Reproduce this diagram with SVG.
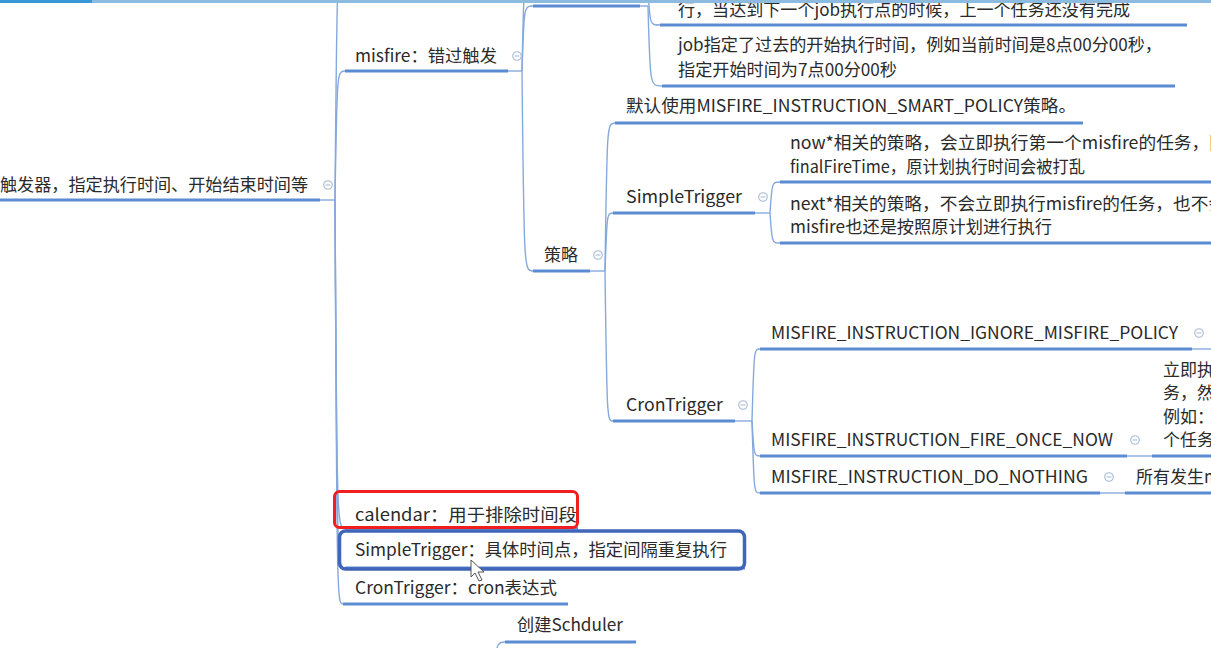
<svg xmlns="http://www.w3.org/2000/svg" width="1211" height="648" viewBox="0 0 1211 648">
<style>
text{font-family:"Noto Sans CJK SC","Noto Sans",sans-serif;font-size:17px;fill:#2a2a2a}
.ul{stroke:#5b8bd2;stroke-width:3;fill:none;stroke-linecap:butt}
.cn{stroke:#86a9dc;stroke-width:1.4;fill:none}
.ic circle{fill:#fff;stroke:#a9bcd6;stroke-width:1.1}
.ic line{stroke:#a9bcd6;stroke-width:1.1}
</style>
<defs>
<g id="tog" class="ic"><circle r="4.3"/><line x1="-2.4" y1="0" x2="2.4" y2="0"/></g>
</defs>
<rect width="1211" height="648" fill="#fff"/>

<g id="connectors">
<path class="cn" d="M320 200H335"/>
<path class="cn" d="M335 200C337 -40 337 -40 345 -40"/>
<path class="cn" d="M335 200C337 71 337 71 345 71"/>
<path class="cn" d="M335 200C337 528 337 528 345 528"/>
<path class="cn" d="M335 200C337 568 337 568 345 568"/>
<path class="cn" d="M335 200C337 604 337 604 343 604"/>
<path class="cn" d="M508 71H522"/>
<path class="cn" d="M522 71C524 -30 524 -30 533 -30"/>
<path class="cn" d="M522 71C524 6 524 6 533 6"/>
<path class="cn" d="M522 71C524 271 524 271 533 271"/>
<path class="cn" d="M640 6H648"/>
<path class="cn" d="M648 -8C650 25 650 25 660 25"/>
<path class="cn" d="M648 6C650 86 650 86 662 86"/>
<path class="cn" d="M590 271H605"/>
<path class="cn" d="M605 271C607 123 607 123 615 123"/>
<path class="cn" d="M605 271C607 213 607 213 613 213"/>
<path class="cn" d="M605 271C607 421 607 421 613 421"/>
<path class="cn" d="M755 213H770"/>
<path class="cn" d="M770 213C772 182 772 182 780 182"/>
<path class="cn" d="M770 213C772 243 772 243 780 243"/>
<path class="cn" d="M735 421H752"/>
<path class="cn" d="M752 421C754 349 754 349 760 349"/>
<path class="cn" d="M752 421C754 456 754 456 760 456"/>
<path class="cn" d="M752 421C754 493 754 493 760 493"/>
<path class="cn" d="M1192 349H1211"/>
<path class="cn" d="M1127 456H1152"/>
<path class="cn" d="M1100 493H1125"/>
<path class="cn" d="M505 642C498 642 497 644 495 660"/>
</g>

<g id="root">
<path class="ul" d="M0 200H320"/>
<text x="0" y="191" textLength="308" lengthAdjust="spacingAndGlyphs">触发器，指定执行时间、开始结束时间等</text>
<use href="#tog" x="328" y="185"/>
</g>

<g id="misfire">
<path class="ul" d="M345 71H508"/>
<text x="355" y="62" textLength="142" lengthAdjust="spacingAndGlyphs">misfire：错过触发</text>
<use href="#tog" x="517" y="56"/>
</g>

<g id="misfire-cause">
<path class="ul" d="M533 6H640"/>
</g>

<g id="cause-overrun">
<path class="ul" d="M660 25H1187"/>
<text x="678" y="16" textLength="452" lengthAdjust="spacingAndGlyphs">行，当达到下一个job执行点的时候，上一个任务还没有完成</text>
</g>

<g id="cause-past">
<path class="ul" d="M662 86H1175"/>
<text x="678" y="51" textLength="484" lengthAdjust="spacingAndGlyphs">job指定了过去的开始执行时间，例如当前时间是8点00分00秒，</text>
<text x="678" y="76" textLength="219" lengthAdjust="spacingAndGlyphs">指定开始时间为7点00分00秒</text>
</g>

<g id="strategy">
<path class="ul" d="M533 271H590"/>
<text x="544" y="261" textLength="34" lengthAdjust="spacingAndGlyphs">策略</text>
<use href="#tog" x="598" y="255"/>
</g>

<g id="default-policy">
<path class="ul" d="M615 123H1083"/>
<text x="626" y="112" textLength="450" lengthAdjust="spacingAndGlyphs">默认使用MISFIRE_INSTRUCTION_SMART_POLICY策略。</text>
</g>

<g id="st-policy">
<path class="ul" d="M613 213H755"/>
<text x="626" y="203" textLength="116" lengthAdjust="spacingAndGlyphs">SimpleTrigger</text>
<use href="#tog" x="763" y="197"/>
</g>

<g id="st-now">
<path class="ul" d="M780 182H1211"/>
<text x="790" y="149" textLength="437" lengthAdjust="spacingAndGlyphs">now*相关的策略，会立即执行第一个misfire的任务，同</text>
<text x="790" y="173" textLength="295" lengthAdjust="spacingAndGlyphs">finalFireTime，原计划执行时间会被打乱</text>
</g>

<g id="st-next">
<path class="ul" d="M780 243H1211"/>
<text x="790" y="210" textLength="436" lengthAdjust="spacingAndGlyphs">next*相关的策略，不会立即执行misfire的任务，也不会</text>
<text x="790" y="233" textLength="262" lengthAdjust="spacingAndGlyphs">misfire也还是按照原计划进行执行</text>
</g>

<g id="ct-policy">
<path class="ul" d="M613 421H735"/>
<text x="626" y="411" textLength="97" lengthAdjust="spacingAndGlyphs">CronTrigger</text>
<use href="#tog" x="743" y="405"/>
</g>

<g id="ct-ignore">
<path class="ul" d="M760 349H1192"/>
<text x="771" y="339" textLength="407" lengthAdjust="spacingAndGlyphs">MISFIRE_INSTRUCTION_IGNORE_MISFIRE_POLICY</text>
<use href="#tog" x="1199" y="333"/>
</g>

<g id="ct-fire-once">
<path class="ul" d="M760 456H1127"/>
<text x="771" y="446" textLength="342" lengthAdjust="spacingAndGlyphs">MISFIRE_INSTRUCTION_FIRE_ONCE_NOW</text>
<use href="#tog" x="1135" y="440"/>
</g>

<g id="ct-fire-once-desc">
<path class="ul" d="M1152 456H1211"/>
<text x="1163" y="376">立即执</text>
<text x="1163" y="399">务，然</text>
<text x="1163" y="423">例如：</text>
<text x="1163" y="446">个任务</text>
</g>

<g id="ct-do-nothing">
<path class="ul" d="M760 493H1100"/>
<text x="771" y="483" textLength="317" lengthAdjust="spacingAndGlyphs">MISFIRE_INSTRUCTION_DO_NOTHING</text>
<use href="#tog" x="1109" y="477"/>
</g>

<g id="ct-do-nothing-desc">
<path class="ul" d="M1125 493H1211"/>
<text x="1136" y="483">所有发生m</text>
</g>

<g id="calendar">
<path class="ul" d="M345 528H578"/>
<text x="355" y="521" textLength="222" lengthAdjust="spacingAndGlyphs">calendar：用于排除时间段</text>
<rect x="334.5" y="491.5" width="243" height="36" rx="5" fill="none" stroke="#f01e1e" stroke-width="3"/>
</g>

<g id="simple-trigger">
<path class="ul" d="M345 568H745"/>
<rect x="339.5" y="531" width="405" height="38" rx="6" fill="none" stroke="#3f66b8" stroke-width="3.5"/>
<text x="355" y="556" textLength="372" lengthAdjust="spacingAndGlyphs">SimpleTrigger：具体时间点，指定间隔重复执行</text>
</g>

<g id="cron-trigger">
<path class="ul" d="M343 604H568"/>
<text x="355" y="594" textLength="202" lengthAdjust="spacingAndGlyphs">CronTrigger：cron表达式</text>
</g>

<g id="create-scheduler">
<path class="ul" d="M505 642H636"/>
<text x="517" y="631" textLength="106" lengthAdjust="spacingAndGlyphs">创建Schduler</text>
</g>

<rect x="0" y="0" width="1211" height="3" fill="#8dbbe0"/>
<rect x="0" y="0" width="92" height="3" fill="#3a98d8"/>
<path d="M471 560L471 577L475 573L479 581L482 580L478 572L484 572Z" fill="#fff" stroke="#555" stroke-width="1" stroke-linejoin="round"/>
</svg>
